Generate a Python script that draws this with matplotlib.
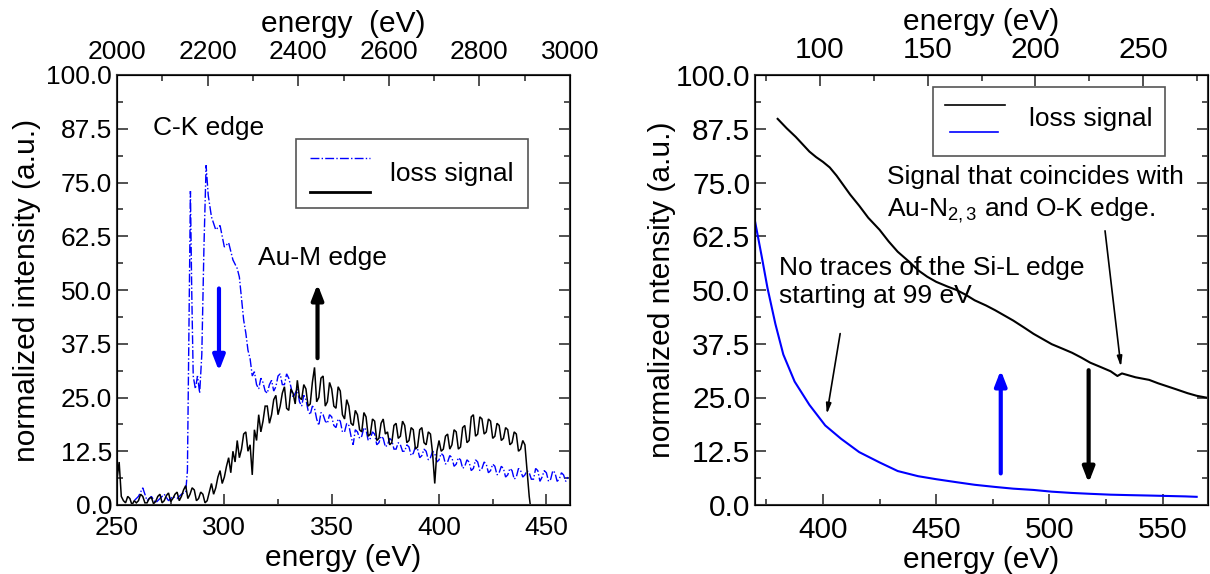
import matplotlib
matplotlib.use("Agg")
import numpy as np
import matplotlib.pyplot as plt
from matplotlib.ticker import MultipleLocator, FormatStrFormatter
from matplotlib.patches import Rectangle
from matplotlib.lines import Line2D

plt.rcParams["font.family"] = ["Liberation Sans", "DejaVu Sans"]
plt.rcParams["mathtext.fontset"] = "custom"
plt.rcParams["mathtext.rm"] = "Liberation Sans"
plt.rcParams["mathtext.it"] = "Liberation Sans"

# ---------------------------------------------------------------------------
# Left panel data (1 eV sampling)
# ---------------------------------------------------------------------------
black_e = list(np.arange(250, 442)) + [442, 442.5]
black_i = [6, 10, 2, 1, 0.5, 2, 1.5, 0, 1, 0.5,
           1, 2.5, 2, 0.5, 0.5, 1.5, 1.8, 0.3, 0.8, 2,
           2.5, 0.5, 1, 2.2, 2.8, 0.8, 1.5, 2.5, 3, 1,
           2, 3.5, 4.5, 1.5, 2.5, 4, 3.5, 1, 1.5, 3,
           2.5, 0.5, 1, 3, 5, 2.5, 4, 6.5, 8, 5,
           6.5, 9, 11, 7.5, 12.5, 10, 15, 11, 13, 16.5,
           17, 12.5, 14, 7, 17.5, 15, 21, 17, 19.5, 23,
           23, 19, 21, 24.5, 25.5, 21, 23, 26, 27.5, 22.5,
           22, 27, 26, 23.5, 29, 25, 24.5, 28, 27, 23,
           23.5, 28.5, 32, 24, 25, 29.5, 30, 23, 24, 28.5,
           27, 23, 22.5, 27.5, 26.5, 21, 20, 24.5, 23, 19,
           18.5, 22, 21, 17.5, 17, 21.5, 20.5, 16, 16.5, 20,
           19.5, 15, 15.5, 19, 20, 16.5, 17, 14, 14.5, 18.5,
           19, 15.5, 16, 19.5, 18.5, 14.5, 15, 18, 17.5, 13,
           13.5, 17.5, 18, 14.5, 14, 17, 16.5, 12, 5, 12.5,
           15, 12.5, 13, 16, 16.5, 13, 14, 17.5, 17, 13,
           13.5, 18, 18.5, 14.5, 15, 20.5, 21, 16, 16.5, 20.5,
           20, 16.5, 17, 20, 19.5, 15.5, 16, 19, 18.5, 15,
           15.5, 18, 17.5, 14, 14.5, 17, 16.5, 12.5, 13, 15,
           14, 8, 2, 0]

blue_edge_e = [258, 260, 262, 264, 266, 268, 270, 272, 274, 276, 278, 280, 282,
               282.8, 283.5, 284.2, 284.8, 285.5, 286.5, 287.5, 288.5, 289.5,
               290.5, 291.5, 292.5, 294, 296, 298, 300, 302, 304, 306, 307,
               308, 309, 310, 311]
blue_edge_i = [1, 2, 4, 1, 2, 0.5, 1.5, 2.5, 1, 2, 1.5, 2.5, 3,
               8, 40, 73, 50, 30, 27, 30, 26, 35,
               60, 79, 72, 67, 64, 65, 60, 61, 57, 55, 53,
               48, 43, 40, 36]
blue_tail_e = list(np.arange(312, 461))
blue_tail_i = [34, 30, 31, 28, 27, 29.5, 28.5, 26.5,
               26, 28, 29, 26.5, 27.5, 30, 30.5, 28, 28, 30.5,
               29.5, 27.5, 25, 26, 27, 24, 23, 25.5, 24.5, 22,
               21, 23, 22.5, 20, 18.5, 21.5, 21, 19.5, 19, 21,
               20.5, 18.5, 18, 20, 19.5, 17, 17, 19, 18.5, 16,
               14, 17.5, 17, 15.5, 16, 18, 17.5, 15, 15.5, 17,
               16.5, 14, 14.5, 16, 15.5, 13.5, 14, 15.5, 15, 13,
               13, 14.5, 14, 12.5, 12.5, 14, 13.5, 11.5, 12, 13.5,
               13, 11, 11.5, 13, 12.5, 10.5, 11, 12.5, 12, 10,
               10.5, 12, 11.5, 9.5, 10, 11.5, 11, 9, 9.5, 11,
               10.5, 8.5, 9, 10.5, 10, 8, 8.5, 10.5, 10, 8,
               8.5, 10, 9.5, 7.5, 8, 9.5, 9, 7, 7.5, 9,
               8.5, 6.5, 7, 8.5, 8, 6, 6.5, 8.5, 8, 6.5,
               7, 8, 7.5, 6, 6, 8.5, 8, 5.5, 6.5, 8,
               7.5, 5.5, 6, 8, 7.5, 5.5, 6, 7.5, 7, 5.5, 6.5]

# ---------------------------------------------------------------------------
# Right panel data
# ---------------------------------------------------------------------------
r_black_e = [380, 384, 388, 391, 394, 397, 400, 403, 406, 409, 412, 416, 420,
             425, 429, 433, 438, 442, 446, 450, 455, 459, 463, 467, 472, 476,
             480, 484, 489, 493, 497, 501, 506, 510, 514, 518, 523, 527, 530,
             532, 534, 538, 544, 548, 552, 556, 561, 565, 570]
r_black_i = [89.8, 87.6, 85.6, 83.9, 82.2, 80.9, 79.8, 78.5, 76.6, 74.4, 72.2,
             69.6, 66.8, 64.0, 61.3, 58.9, 56.6, 54.6, 53.1, 51.9, 50.8, 50.0,
             48.9, 47.6, 46.4, 45.3, 44.1, 42.9, 41.2, 39.8, 38.6, 37.4, 36.3,
             35.4, 34.3, 33.1, 32.0, 31.1, 30.0, 30.6, 30.3, 29.7, 29.1, 28.3,
             27.6, 26.9, 26.0, 25.4, 24.9]

r_blue_e = [370, 373, 375.5, 379, 382.5, 387.5, 394, 401, 408, 416, 425, 433,
            442, 450, 459, 467, 476, 484, 493, 501, 510, 518, 527, 535, 544,
            552, 560, 565]
r_blue_i = [66, 57.7, 50.5, 42.1, 35, 28.7, 23.3, 18.5, 15.4, 12.3, 9.9, 7.9,
            6.7, 6.0, 5.3, 4.7, 4.2, 3.8, 3.5, 3.1, 2.8, 2.6, 2.4, 2.3, 2.2,
            2.1, 2.0, 1.9]

BLUE = "#0000ff"
TICK_FS_L = 19
TICK_FS_R = 21.5
LABEL_FS = 21.5
NOTE_FS = 19


def style_axes(ax, top, tick_fs, xmaj, xmin, txmaj, txmin, top_lim):
    ax.set_ylim(0, 100)
    ax.yaxis.set_major_locator(MultipleLocator(12.5))
    ax.yaxis.set_minor_locator(MultipleLocator(6.25))
    ax.yaxis.set_major_formatter(FormatStrFormatter("%.1f"))
    ax.xaxis.set_major_locator(MultipleLocator(xmaj))
    ax.xaxis.set_minor_locator(MultipleLocator(xmin))
    ax.tick_params(which="both", direction="in", right=True, top=False,
                   labelsize=tick_fs, width=1.2, colors="#333333",
                   labelcolor="black")
    ax.tick_params(which="major", length=8)
    ax.tick_params(which="minor", length=4)
    ax.tick_params(axis="x", which="major", pad=8)
    for s in ax.spines.values():
        s.set_linewidth(1.5)
        s.set_color("#333333")
    top.set_xlim(*top_lim)
    top.xaxis.set_major_locator(MultipleLocator(txmaj))
    top.xaxis.set_minor_locator(MultipleLocator(txmin))
    top.tick_params(which="both", direction="in", labelsize=tick_fs,
                    width=1.2, colors="#333333", labelcolor="black")
    top.tick_params(which="major", length=8, pad=8)
    top.tick_params(which="minor", length=4)


def fake_legend(ax, box, first, second):
    x0, y0, x1, y1 = box
    ax.add_patch(Rectangle((x0, y0), x1 - x0, y1 - y0, transform=ax.transAxes,
                           fill=True, facecolor="white", edgecolor="#555555",
                           lw=1.2, zorder=5))
    for (lx0, lx1, ly, color, ls, lw) in (first, second):
        ax.add_line(Line2D([lx0, lx1], [ly, ly], transform=ax.transAxes,
                           color=color, ls=ls, lw=lw, zorder=6))


fig = plt.figure(figsize=(12.1, 5.74), dpi=100)

# ---------------------------------------------------------------------------
# Left panel
# ---------------------------------------------------------------------------
ax = fig.add_axes([117 / 1210, 69 / 574, 453 / 1210, 430 / 574])
ax_t = ax.twiny()
ax.plot(blue_edge_e + blue_tail_e, blue_edge_i + blue_tail_i,
        color=BLUE, lw=1.0, ls="-.", dash_joinstyle="miter")
ax.plot(black_e, black_i, color="black", lw=1.1, solid_joinstyle="miter")
ax.set_xlim(250, 461)
style_axes(ax, ax_t, TICK_FS_L, 50, 25, 200, 100, (2000, 3000))
ax.set_xlabel("energy (eV)", fontsize=LABEL_FS, labelpad=3)
ax.set_ylabel("normalized intensity (a.u.)", fontsize=LABEL_FS, labelpad=4)
ax_t.set_xlabel("energy  (eV)", fontsize=LABEL_FS, labelpad=6)

ax.text(267, 86, "C-K edge", fontsize=NOTE_FS, va="baseline")
ax.text(315.7, 55.8, "Au-M edge", fontsize=NOTE_FS, va="baseline")
ax.annotate("", xy=(297.5, 30.5), xytext=(297.5, 51),
            arrowprops=dict(arrowstyle="-|>,head_length=0.9,head_width=0.35",
                            color=BLUE, lw=3))
ax.annotate("", xy=(343.4, 52), xytext=(343.4, 33.5),
            arrowprops=dict(arrowstyle="-|>,head_length=0.9,head_width=0.35",
                            color="black", lw=3))

fake_legend(ax, (0.395, 0.690, 0.907, 0.852),
            (0.425, 0.559, 0.807, BLUE, "-.", 1.0),
            (0.425, 0.559, 0.729, "black", "-", 2.0))
ax.text(0.603, 0.770, "loss signal", transform=ax.transAxes,
        fontsize=NOTE_FS, va="center", zorder=7)

# ---------------------------------------------------------------------------
# Right panel
# ---------------------------------------------------------------------------
ax = fig.add_axes([755 / 1210, 69 / 574, 453 / 1210, 430 / 574])
ax_t = ax.twiny()
ax.plot(r_black_e, r_black_i, color="black", lw=1.5)
ax.plot(r_blue_e, r_blue_i, color=BLUE, lw=1.5)
ax.set_xlim(370, 570)
style_axes(ax, ax_t, TICK_FS_R, 50, 25, 50, 25, (70, 280))
ax.set_xlabel("energy (eV)", fontsize=LABEL_FS, labelpad=1)
ax.set_ylabel("normalized ntensity (a.u.)", fontsize=LABEL_FS, labelpad=0)
ax_t.set_xlabel("energy (eV)", fontsize=LABEL_FS, labelpad=4)

ax.text(428.2, 74.6, "Signal that coincides with", fontsize=NOTE_FS,
        va="baseline")
ax.text(428.2, 67.2, "Au-N$_{2,3}$ and O-K edge.", fontsize=NOTE_FS,
        va="baseline")
ax.text(380.7, 53.6, "No traces of the Si-L edge", fontsize=NOTE_FS,
        va="baseline")
ax.text(380.7, 47.0, "starting at 99 eV", fontsize=NOTE_FS, va="baseline")

thin = dict(arrowstyle="-|>,head_length=0.6,head_width=0.15",
            color="black", lw=1.2)
ax.annotate("", xy=(401.5, 20.5), xytext=(407.8, 40.5), arrowprops=thin)
ax.annotate("", xy=(531.7, 31.5), xytext=(524.4, 64.4), arrowprops=thin)
ax.annotate("", xy=(478.5, 32), xytext=(478.5, 6.7),
            arrowprops=dict(arrowstyle="-|>,head_length=0.9,head_width=0.35",
                            color=BLUE, lw=3))
ax.annotate("", xy=(517.3, 4.5), xytext=(517.3, 32),
            arrowprops=dict(arrowstyle="-|>,head_length=0.9,head_width=0.35",
                            color="black", lw=3))

fake_legend(ax, (0.393, 0.812, 0.905, 0.973),
            (0.419, 0.552, 0.931, "black", "-", 1.2),
            (0.430, 0.536, 0.867, BLUE, "-", 1.2))
ax.text(0.605, 0.898, "loss signal", transform=ax.transAxes,
        fontsize=NOTE_FS, va="center", zorder=7)

fig.savefig("out.png", dpi=100)
